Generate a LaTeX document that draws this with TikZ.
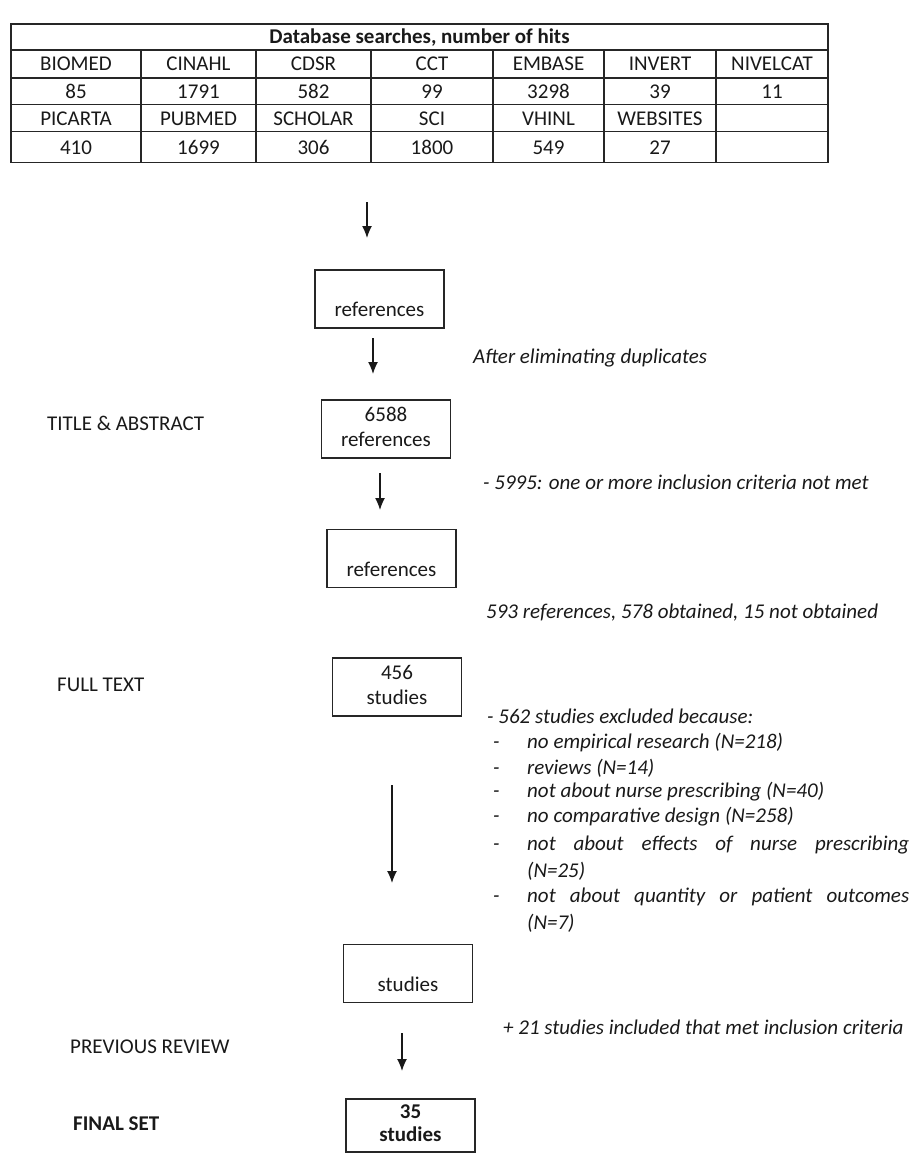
\documentclass[tikz,border=0pt]{standalone}
\usepackage{fontspec}
\setmainfont{Carlito}
\usetikzlibrary{arrows.meta}
\begin{document}
\begin{tikzpicture}[x=1pt,y=-1pt,
  every node/.style={font=\fontsize{21}{25}\selectfont, text=black!90},
  tab/.style={draw=black!85, line width=1.3pt},
  cell/.style={anchor=center, inner sep=0pt, text height=13.5pt, text depth=0pt},
  box/.style={draw=black!85, line width=1.2pt, minimum width=129pt, minimum height=58pt, align=center, inner sep=2pt},
  finalbox/.style={box, line width=2.4pt, minimum height=53pt, font=\fontsize{21}{23}\selectfont\bfseries},
  arr/.style={draw=black!90, line width=1.3pt, -{Latex[length=12pt,width=10pt]}},
  lbl/.style={anchor=base west, inner sep=0pt},
  note/.style={anchor=base west, inner sep=0pt, font=\fontsize{21}{25}\selectfont\itshape}
]
\useasboundingbox (0,0) rectangle (914,1154);

% ---------- table ----------
\draw[tab] (11,24) rectangle (828,162.5);
\foreach \y in {50,78,104.5,131.5} \draw[tab] (11,\y) -- (828,\y);
\foreach \x in {141,256,371,493,604,716} \draw[tab] (\x,50) -- (\x,162.5);
\node[cell, font=\fontsize{21}{25}\selectfont\bfseries] (head) at (419.5,37) {Database searches, number of hits};
\foreach \x/\t [count=\i] in {76/BIOMED,198.5/CINAHL,313.5/CDSR,432/CCT,548.5/EMBASE,660/INVERT,772/NIVELCAT}
  \node[cell] (ra\i) at (\x,64) {\t};
\foreach \x/\t [count=\i] in {76/85,198.5/1791,313.5/582,432/99,548.5/3298,660/39,772/11}
  \node[cell] (rb\i) at (\x,91.5) {\t};
\foreach \x/\t [count=\i] in {76/PICARTA,198.5/PUBMED,313.5/SCHOLAR,432/SCI,548.5/VHINL,660/WEBSITES}
  \node[cell] (rc\i) at (\x,118.5) {\t};
\foreach \x/\t [count=\i] in {76/410,198.5/1699,313.5/306,432/1800,548.5/549,660/27}
  \node[cell] (rd\i) at (\x,147.5) {\t};

% ---------- boxes ----------
\node[box] (b1) at (379.5,299) {\strut\\references\strut};
\node[box] (b2) at (386,429) {\strut 6588\\references\strut};
\node[box] (b3) at (391.5,558.5) {\strut\\references\strut};
\node[box] (b4) at (397,687) {\strut 456\\studies\strut};
\node[box] (b5) at (408,973.5) {\strut\\studies\strut};
\node[finalbox] (b6) at (410.5,1125.5) {\strut 35\\studies\strut};

% ---------- arrows ----------
\coordinate (a1s) at (367,202); \coordinate (a1e) at (367,238);
\coordinate (a2s) at (373,338); \coordinate (a2e) at (373,374);
\coordinate (a3s) at (380,473); \coordinate (a3e) at (380,510);
\coordinate (a4s) at (392,785); \coordinate (a4e) at (392,883);
\coordinate (a5s) at (402,1033); \coordinate (a5e) at (402,1071);
\draw[arr] (a1s) -- (a1e);
\draw[arr] (a2s) -- (a2e);
\draw[arr] (a3s) -- (a3e);
\draw[arr] (a4s) -- (a4e);
\draw[arr] (a5s) -- (a5e);

% ---------- left labels ----------
\node[lbl] (l1) at (47,430) {TITLE \& ABSTRACT};
\node[lbl] (l2) at (57,691) {FULL TEXT};
\node[lbl] (l3) at (70,1053) {PREVIOUS REVIEW};
\node[lbl, font=\fontsize{21}{25}\selectfont\bfseries] (l4) at (73,1130) {FINAL SET};

% ---------- right notes ----------
\node[note] (n1) at (473,363) {After eliminating duplicates};
\node[note] (n2) at (483,489) {- 5995: one or more inclusion criteria not met};
\node[note] (n3) at (486,618) {593 references, 578 obtained, 15 not obtained};
\node[note] (n4) at (487,723) {- 562 studies excluded because:};
\foreach \y/\t [count=\i] in {748/{no empirical research (N=218)},
                              774/{reviews (N=14)},
                              797/{not about nurse prescribing (N=40)},
                              822/{no comparative design (N=258)}}{
  \node[note] (d\i) at (493,\y) {-};
  \node[note] (e\i) at (527,\y) {\t};
}
\node[note] (d5) at (493,850) {-};
\node[note] (e5) at (527,850) {\makebox[382pt][s]{not about effects of nurse prescribing}};
\node[note] (e5b) at (527,877) {(N=25)};
\node[note] (d6) at (493,902) {-};
\node[note] (e6) at (527,902) {\makebox[382pt][s]{not about quantity or patient outcomes}};
\node[note] (e6b) at (527,929) {(N=7)};
\node[note] (n5) at (503,1034) {+ 21 studies included that met inclusion criteria};
\end{tikzpicture}
\end{document}
